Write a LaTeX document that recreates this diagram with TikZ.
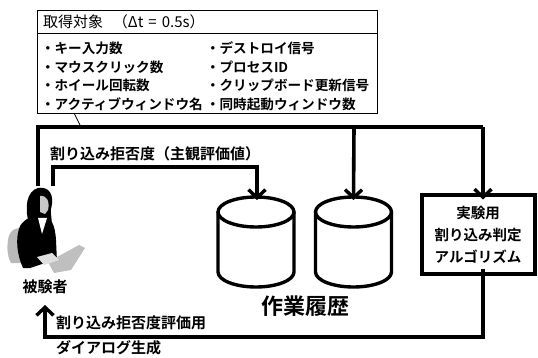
\documentclass[tikz,border=0pt]{standalone}
\usepackage{fontspec}
\setmainfont{Noto Sans CJK JP}[BoldFont={Noto Sans CJK JP Bold}]
\usetikzlibrary{arrows.meta}
\begin{document}
\begin{tikzpicture}[x=1pt,y=-1pt,
  every node/.style={inner sep=0pt,outer sep=0pt},
  txt/.style={font=\bfseries\fontsize{13.6}{13.6}\selectfont,anchor=west},
  lbl/.style={font=\bfseries\fontsize{15}{15}\selectfont},
  flow/.style={line width=3.6pt},
  flowarrow/.style={line width=3.6pt,-{Straight Barb[length=8pt,width=17pt,line width=3.4pt]}},
  cyl/.style={line width=3.4pt,line join=round},
  algbox/.style={draw,line width=4pt,minimum width=113pt,minimum height=78pt,fill=white,align=center,font=\bfseries\fontsize{14.5}{22}\selectfont}]
\useasboundingbox (0,0) rectangle (538,358);

% acquisition target box
\draw[line width=0.8pt] (37,10) rectangle (377,113);
\draw[line width=0.8pt] (37,33) -- (377,33);
\node[anchor=west,font=\fontsize{15}{15}\selectfont] (hdr) at (43,22)
  {取得対象\hspace{10pt}（Δt\hspace{5pt}=\hspace{5pt}0.5s）};
\node[txt] (i1) at (41,48.5) {・キー入力数};
\node[txt] (i2) at (41,67) {・マウスクリック数};
\node[txt] (i3) at (41,85.5) {・ホイール回転数};
\node[txt] (i4) at (41,104) {・アクティブウィンドウ名};
\node[txt] (j1) at (206,48.5) {・デストロイ信号};
\node[txt] (j2) at (206,67) {・プロセスID};
\node[txt] (j3) at (206,85.5) {・クリップボード更新信号};
\node[txt] (j4) at (206,104) {・同時起動ウィンドウ数};

% subject figure: chair, suit, hair, face, laptop
\fill[gray!55] (8,240) .. controls (9,230) and (17,226) .. (24,229) -- (27,263) -- (11,263) .. controls (7,256) and (7,248) .. (8,240) -- cycle;
\fill[black] (20,226) .. controls (25,218) and (34,215) .. (42,215) .. controls (51,217) and (55,224) .. (56,240)
  -- (57,262) -- (48,262) -- (30,268) -- (23,268) .. controls (17,255) and (15,238) .. (20,226) -- cycle;
\fill[black] (29,223) .. controls (24,207) and (27,191) .. (38,188) .. controls (49,186) and (55,195) .. (51,209)
  .. controls (50,215) and (53,220) .. (51,225) -- (33,225) -- cycle;
\fill[gray!45] (40,196) .. controls (47,195) and (50,202) .. (48,210) -- (45,214) -- (40,212) -- cycle;
\fill[white] (38,218) -- (47,218) -- (42,234) -- cycle;
\fill[gray!50] (48,262) -- (79,245) -- (85,248) -- (71,270) -- (54,273) -- cycle;
\fill[gray!25] (37,257) -- (52,253) -- (59,260) -- (44,265) -- cycle;
\node[lbl] (subj) at (45,287) {被験者};
\coordinate (s1) at (38,186);
\coordinate (s2) at (53,186);
\coordinate (s3) at (45,305);

% work history databases
\foreach \cx/\nm in {256/db1,353.5/db2}{
  \fill[white] (\cx-38,212) -- (\cx-38,272) arc (180:0:38 and 15) -- (\cx+38,212) -- cycle;
  \draw[cyl] (\cx-38,212) -- (\cx-38,272) arc (180:0:38 and 15) -- (\cx+38,212);
  \draw[cyl] (\cx,212) ellipse (38 and 15);
  \coordinate (\nm) at (\cx,197);
}
\node[font=\bfseries\fontsize{22}{22}\selectfont] (hist) at (305,306) {作業履歴};

% interruption judgement algorithm
\node[algbox] (alg) at (478,234.5) {実験用\\割り込み判定\\アルゴリズム};

% leader from the target box to the acquisition line
\coordinate (lead) at (80,125);
\draw[line width=0.7pt] (74,113) -- (lead);

% acquired data flow
\coordinate (t1) at (38,127);
\coordinate (t2) at (354,127);
\coordinate (t3) at (483,127);
\draw[flow] (s1) -- (t1) -- (t3);
\draw[flowarrow] (t2) -- ([yshift=-3pt]db2);
\draw[flowarrow] (t3) -- ([yshift=-4pt]alg.north -| t3);

% subjective rating flow
\coordinate (r1) at (53,167);
\coordinate (r2) at (257,167);
\draw[flowarrow] (s2) -- (r1) -- (r2) -- ([yshift=-3pt]db1 -| r2);
\node[lbl,anchor=west] (rlbl) at (50,154) {割り込み拒否度（主観評価値）};

% dialog generation flow
\coordinate (b1) at (483,337);
\coordinate (b2) at (45,337);
\draw[flowarrow] ([yshift=5pt]alg.south -| b1) -- (b1) -- (b2) -- (s3);
\node[lbl,anchor=west] (blbl1) at (56,323) {割り込み拒否度評価用};
\node[lbl,anchor=west] (blbl2) at (56,347.5) {ダイアログ生成};
\end{tikzpicture}
\end{document}
